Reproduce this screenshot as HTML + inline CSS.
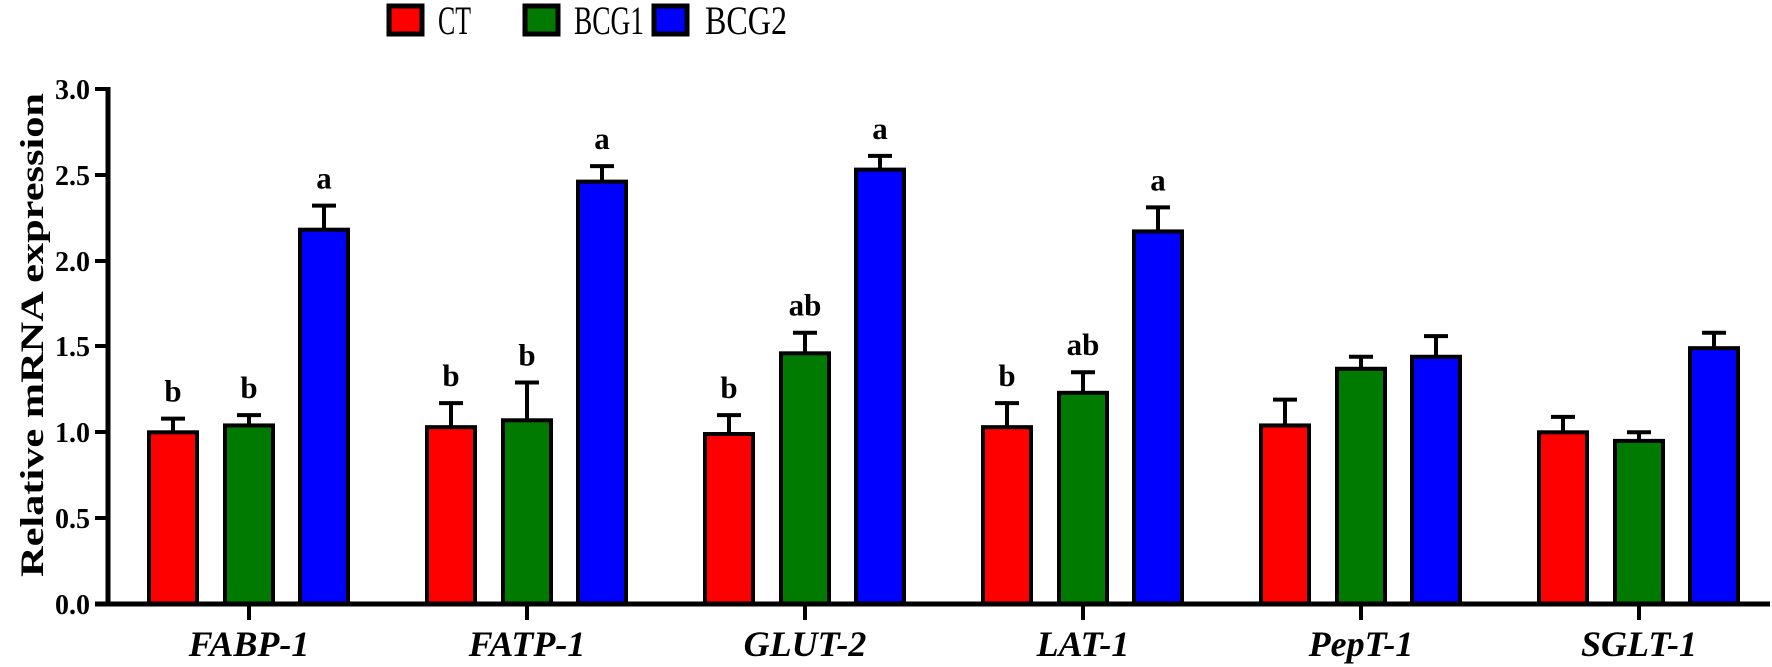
<!DOCTYPE html>
<html><head><meta charset="utf-8"><style>
html,body{margin:0;padding:0;background:#fff;}
svg{display:block;}
text{font-family:"Liberation Serif",serif;}
</style></head><body>
<svg width="1772" height="667" viewBox="0 0 1772 667" xmlns="http://www.w3.org/2000/svg">
<!-- legend -->
<rect x="389" y="6" width="33" height="28" fill="#ff0000" stroke="#000" stroke-width="5"/>
<text x="438" y="34" font-size="40" textLength="33" lengthAdjust="spacingAndGlyphs">CT</text>
<rect x="525" y="6" width="33" height="28" fill="#007a00" stroke="#000" stroke-width="5"/>
<text x="574" y="34" font-size="40" textLength="70" lengthAdjust="spacingAndGlyphs">BCG1</text>
<rect x="654" y="6" width="33" height="28" fill="#0000ff" stroke="#000" stroke-width="5"/>
<text x="705" y="34" font-size="40" textLength="82" lengthAdjust="spacingAndGlyphs">BCG2</text>

<!-- y title -->
<text transform="translate(43,335) rotate(-90)" text-anchor="middle" font-size="33" font-weight="bold" textLength="484" lengthAdjust="spacingAndGlyphs">Relative mRNA expression</text>

<g id="bars"></g>
<!-- axes -->
<line x1="108" y1="87" x2="108" y2="606" stroke="#000" stroke-width="5"/>
<line x1="95" y1="604" x2="1770" y2="604" stroke="#000" stroke-width="5"/>
<g stroke="#000" stroke-width="4">
<line x1="95" y1="89" x2="108" y2="89"/>
<line x1="95" y1="175" x2="108" y2="175"/>
<line x1="95" y1="261" x2="108" y2="261"/>
<line x1="95" y1="346" x2="108" y2="346"/>
<line x1="95" y1="432" x2="108" y2="432"/>
<line x1="95" y1="518" x2="108" y2="518"/>
</g>
<g font-size="28" font-weight="bold" text-anchor="end">
<text x="90" y="99">3.0</text>
<text x="90" y="185">2.5</text>
<text x="90" y="271">2.0</text>
<text x="90" y="356">1.5</text>
<text x="90" y="442">1.0</text>
<text x="90" y="528">0.5</text>
<text x="90" y="614">0.0</text>
</g>
<g id="xl" font-size="36" font-weight="bold" font-style="italic" text-anchor="middle"></g>
</svg>
<script>
var ns="http://www.w3.org/2000/svg";
var Y0=604,S=171.7;
function y(v){return Y0-v*S;}
var data=[
["FABP-1",[[1.0,1.08,"b"],[1.04,1.10,"b"],[2.18,2.32,"a"]]],
["FATP-1",[[1.03,1.17,"b"],[1.07,1.29,"b"],[2.46,2.55,"a"]]],
["GLUT-2",[[0.99,1.10,"b"],[1.46,1.58,"ab"],[2.53,2.61,"a"]]],
["LAT-1",[[1.03,1.17,"b"],[1.23,1.35,"ab"],[2.17,2.31,"a"]]],
["PepT-1",[[1.04,1.19,""],[1.37,1.44,""],[1.44,1.56,""]]],
["SGLT-1",[[1.0,1.09,""],[0.95,1.00,""],[1.49,1.58,""]]]
];
var cols=["#ff0000","#007a00","#0000ff"],offs=[-100,-24,51];
var g=document.getElementById("bars"),xl=document.getElementById("xl");
function el(t,a,p){var e=document.createElementNS(ns,t);for(var k in a)e.setAttribute(k,a[k]);p.appendChild(e);return e;}
data.forEach(function(d,i){
 var t=249+278*i;
 el("line",{x1:t,y1:604,x2:t,y2:620,stroke:"#000","stroke-width":4},g);
 var tx=el("text",{x:t,y:656},xl);tx.textContent=d[0];
 d[1].forEach(function(b,j){
  var x=t+offs[j],w=48,cx=x+w/2;
  el("line",{x1:cx,y1:y(b[0]),x2:cx,y2:y(b[1]),stroke:"#000","stroke-width":4},g);
  el("line",{x1:cx-12,y1:y(b[1]),x2:cx+12,y2:y(b[1]),stroke:"#000","stroke-width":4},g);
  el("rect",{x:x,y:y(b[0]),width:w,height:Y0-y(b[0]),fill:cols[j],stroke:"#000","stroke-width":4},g);
  if(b[2]){var l=el("text",{x:cx,y:y(b[1])-17,"font-size":31,"font-weight":"bold","text-anchor":"middle"},g);l.textContent=b[2];}
 });
});
</script>
</body></html>
